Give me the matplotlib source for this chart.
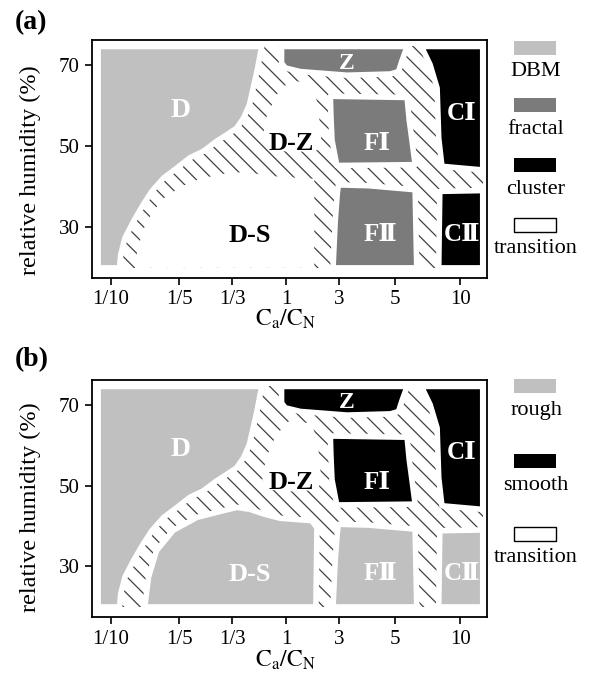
import matplotlib
matplotlib.use('Agg')
import matplotlib.pyplot as plt
from matplotlib.patches import Polygon, Rectangle

plt.rcParams['font.family'] = ['Liberation Serif', 'DejaVu Serif']
plt.rcParams['mathtext.fontset'] = 'stix'
plt.rcParams['hatch.linewidth'] = 0.9

# --- data -------------------------------------------------------------
# x axis: Ca/CN ratio, drawn at these (non uniform) positions
ratio_labels = ['1/10', '1/5', '1/3', '1', '3', '5', '10']
ratio_pos = [0, 1.27, 2.26, 3.27, 4.25, 5.30, 6.51]
rh_ticks = [30, 50, 70]

# outlines of the regions: (position on ratio axis, relative humidity %)
area = [(-0.24, 19.9), (6.93, 19.9), (6.93, 74.6), (-0.24, 74.6)]
reg_D = [(-0.24, 74.6), (2.81, 74.6), (2.72, 68.4), (2.65, 64.3), (2.58, 60.2),
         (2.47, 56.9), (2.34, 54.4), (2.16, 52.8), (1.97, 51.2), (1.72, 48.7),
         (1.47, 47.1), (1.23, 44.6), (0.98, 42.1), (0.76, 38.8), (0.60, 35.5),
         (0.42, 31.4), (0.26, 27.3), (0.18, 23.1), (0.16, 19.9), (-0.24, 19.9)]
reg_DZ = [(3.34, 66.3), (3.75, 65.3), (3.86, 60.1), (3.92, 51.5), (3.86, 49.0),
          (3.45, 48.5), (2.93, 49.0), (2.82, 51.5), (2.89, 56.9), (3.08, 62.6)]
reg_DS_a = [(0.45, 19.9), (0.49, 24.3), (0.60, 29.3), (0.77, 33.7), (1.01, 37.4),
            (1.33, 40.1), (1.66, 41.9), (2.07, 43.1), (2.50, 43.6), (2.97, 42.6),
            (3.53, 42.1), (3.79, 41.9), (3.79, 19.9)]
reg_DS_b = [(0.63, 19.9), (0.70, 27.3), (0.85, 33.9), (1.16, 38.9), (1.60, 42.1),
            (2.10, 43.8), (2.35, 44.6), (2.59, 44.1), (2.84, 43.0), (3.15, 41.9),
            (3.74, 41.3), (3.84, 39.6), (3.82, 19.9)]
reg_Z = [(3.18, 74.6), (5.52, 74.6), (5.42, 70.9), (5.36, 68.4), (5.21, 67.8),
         (4.40, 67.5), (3.53, 68.4), (3.25, 69.3), (3.18, 70.5)]
reg_FI = [(4.09, 62.3), (5.52, 62.0), (5.56, 56.4), (5.61, 51.5), (5.67, 45.4),
          (4.21, 45.2), (4.12, 51.5), (4.10, 57.6)]
reg_FII = [(4.24, 40.4), (4.80, 40.2), (5.67, 39.2), (5.70, 19.9), (4.14, 19.9),
           (4.18, 31.4), (4.22, 38.4)]
reg_CI = [(5.76, 74.6), (6.93, 74.6), (6.93, 44.1), (6.17, 45.0), (6.11, 52.0),
          (6.08, 64.3), (5.95, 70.1), (5.83, 73.4)]
reg_CII = [(6.13, 38.8), (6.93, 39.0), (6.93, 19.9), (6.11, 19.9)]

# region names and where they are written
names = ['D', 'D-S', 'D-Z', 'Z', 'FⅠ', 'FⅡ', 'CⅠ', 'CⅡ']
name_x = [1.29, 2.59, 3.36, 4.40, 4.96, 5.02, 6.54, 6.54]
name_y = [58.9, 28.0, 50.7, 70.5, 50.7, 28.1, 58.1, 28.1]

light = '#c0c0c0'
mid = '#7b7b7b'
dark = '#000000'

legend_a = ['DBM', 'fractal', 'cluster', 'transition']
legend_a_col = [light, mid, dark, 'white']
legend_b = ['rough', 'smooth', 'transition']
legend_b_col = [light, dark, 'white']


def draw_panel(ax, fills, label_cols):
    # transition zone: hatched everywhere, then regions on top
    ax.add_patch(Polygon(area, facecolor='white', edgecolor='#404040',
                         hatch='\\\\', lw=0))
    ax.add_patch(Polygon(reg_DZ, facecolor='white', lw=0))
    for pts, col in fills:
        if col == 'white':
            ax.add_patch(Polygon(pts, facecolor='white', lw=0))
        else:
            ax.add_patch(Polygon(pts, facecolor=col, edgecolor='white',
                                 lw=4, joinstyle='round'))
    sizes = [20, 19, 19, 17, 18, 18, 18, 18]
    for n, x, y, c, s in zip(names, name_x, name_y, label_cols, sizes):
        ax.text(x, y, n, color=c, fontsize=s, fontweight='bold',
                ha='center', va='center')

    ax.set_xlim(-0.354, 7.01)
    ax.set_ylim(17.4, 76.2)
    ax.set_xticks(ratio_pos)
    ax.set_xticklabels(ratio_labels)
    ax.set_yticks(rh_ticks)
    ax.tick_params(direction='out', length=5, width=1.2, labelsize=15, pad=4)
    for sp in ax.spines.values():
        sp.set_linewidth(1.3)
    ax.set_ylabel('relative humidity (%)', fontsize=17.5)
    ax.set_xlabel(r'$\mathrm{C_a/C_N}$', fontsize=17)


def draw_legend(fig, labels, cols, patch_top):
    for lab, col, top in zip(labels, cols, patch_top):
        y0 = 1 - (top + 14) / 674
        fig.add_artist(Rectangle((514 / 595, y0), 42 / 595, 14 / 674,
                                 transform=fig.transFigure, facecolor=col,
                                 edgecolor='black' if col == 'white' else 'none',
                                 lw=1))
        fig.text(536 / 595, 1 - (top + 31) / 674, lab, fontsize=16,
                 ha='center', va='center')


fig = plt.figure(figsize=(5.95, 6.74), dpi=100)
ax1 = fig.add_axes([92 / 595, 1 - 278 / 674, 395 / 595, 238 / 674])
ax2 = fig.add_axes([92 / 595, 1 - 617 / 674, 395 / 595, 237 / 674])

fills_a = [(reg_D, light), (reg_DS_a, 'white'), (reg_Z, mid), (reg_FI, mid),
           (reg_FII, mid), (reg_CI, dark), (reg_CII, dark)]
cols_a = ['white', 'black', 'black', 'white', 'white', 'white', 'white', 'white']
draw_panel(ax1, fills_a, cols_a)

fills_b = [(reg_D, light), (reg_DS_b, light), (reg_Z, dark), (reg_FI, dark),
           (reg_FII, light), (reg_CI, dark), (reg_CII, light)]
cols_b = ['white', 'white', 'black', 'white', 'white', 'white', 'white', 'white']
draw_panel(ax2, fills_b, cols_b)

ax1.yaxis.set_label_coords(-0.13, 0.454)
ax2.yaxis.set_label_coords(-0.13, 0.465)
ax1.xaxis.set_label_coords(0.49, -0.125)
ax2.xaxis.set_label_coords(0.49, -0.135)

draw_legend(fig, legend_a, legend_a_col, [41, 98, 158, 218])
draw_legend(fig, legend_b, legend_b_col, [379, 454, 527])

fig.text(0.025, 1 - 23 / 674, '(a)', fontsize=20, fontweight='bold', va='center')
fig.text(0.025, 1 - 360 / 674, '(b)', fontsize=20, fontweight='bold', va='center')

fig.savefig('out.png', dpi=100)
